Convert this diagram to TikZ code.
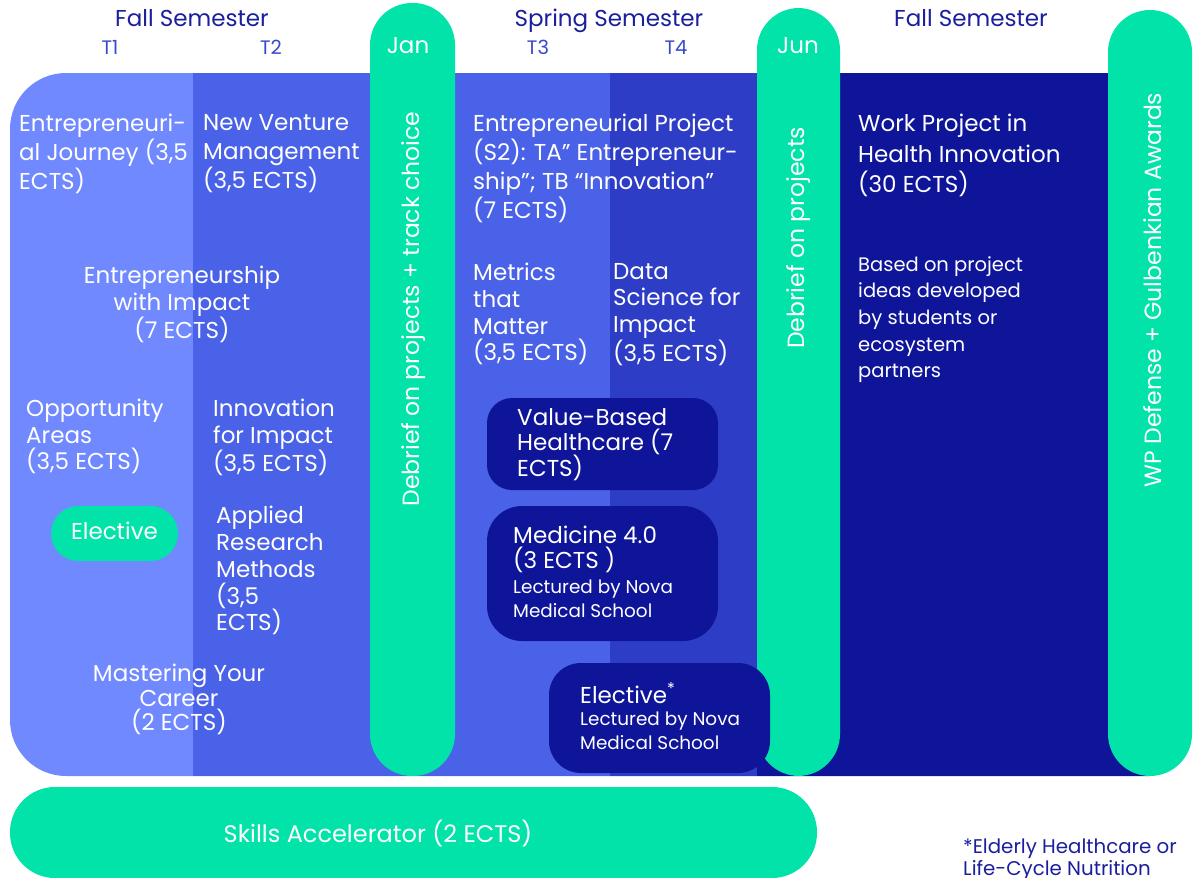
\documentclass[tikz,border=0pt]{standalone}
\usepackage{fontspec}
\setmainfont{Poppins}
\definecolor{mint}{HTML}{02E3AA}
\definecolor{tone}{HTML}{7189FE}
\definecolor{ttwo}{HTML}{4A62E8}
\definecolor{tfour}{HTML}{2E3DC6}
\definecolor{navy}{HTML}{0F1599}
\definecolor{head}{HTML}{1B1F9C}
\definecolor{tlab}{HTML}{3848C9}
\tikzset{
  big/.style={font=\fontsize{23}{29}\selectfont},
  mid/.style={font=\fontsize{23}{26.6}\selectfont},
  lbl/.style={text=white, inner sep=0pt, align=left, anchor=north west},
  clbl/.style={text=white, inner sep=0pt, align=center, anchor=north},
  pill/.style={fill=mint, rounded corners=42},
  navybox/.style={fill=navy},
  hdr/.style={text=head, inner sep=0pt, anchor=base, font=\fontsize{23}{26}\selectfont},
  tl/.style={text=tlab, inner sep=0pt, anchor=base, font=\fontsize{19.5}{22}\selectfont},
  wt/.style={text=white, inner sep=0pt, anchor=base, font=\fontsize{23}{26}\selectfont},
  vt/.style={text=white, font=\fontsize{23.5}{26}\selectfont, rotate=90},
}
\begin{document}
\begin{tikzpicture}[x=1pt,y=-1pt]
\useasboundingbox (0,0) rectangle (1194,878);
% band
\begin{scope}
\clip[rounded corners=56] (10,73) rectangle (1400,776);
\fill[tone] (0,60) rectangle (193,790);
\fill[ttwo] (193,60) rectangle (610,790);
\fill[tfour] (610,60) rectangle (757,790);
\fill[navy] (757,60) rectangle (1150,790);
\end{scope}
% pills
\fill[pill] (370,3) rectangle (455,776);
\fill[pill] (757,8) rectangle (840,776);
\fill[pill] (1108,10) rectangle (1192,776);
\fill[mint, rounded corners=45] (10,787) rectangle (817,878);
\fill[mint, rounded corners=27.5] (51,506) rectangle (178,561);
% headers
\node[hdr] (fall1) at (192,26) {Fall Semester};
\node[hdr] (spring) at (609,26) {Spring Semester};
\node[hdr] (fall2) at (971,26) {Fall Semester};
\node[tl] (t1) at (110,54) {T1};
\node[tl] (t2) at (271,54) {T2};
\node[tl] (t3) at (538,54) {T3};
\node[tl] (t4) at (676,54) {T4};
\node[wt] (jan) at (408,53) {Jan};
\node[wt] (jun) at (798,53) {Jun};
% vertical
\node[vt] (deb1) at (414,309) {Debrief on projects + track choice};
\node[vt] (deb2) at (799,238) {Debrief on projects};
\node[vt] (wp) at (1153,290) {WP Defense + Gulbenkian Awards};
% T1/T2 texts
\node[lbl, big] (ej) at (19,114) {Entrepreneuri-\\al Journey (3,5\\ECTS)};
\node[lbl, big] (nvm) at (203,114) {New Venture\\Management\\(3,5 ECTS)};
\node[clbl, font=\fontsize{23}{26.5}\selectfont] (ewi) at (182,266) {Entrepreneurship\\with Impact\\(7 ECTS)};
\node[lbl, mid] (oa) at (26,399) {Opportunity\\Areas\\(3,5 ECTS)};
\node[lbl, mid] (ifi) at (213,399) {Innovation\\for Impact\\(3,5 ECTS)};
\node[wt] (el1) at (114.5,539) {Elective};
\node[lbl, font=\fontsize{23}{26.8}\selectfont] (arm) at (216,506) {Applied\\Research\\Methods\\(3,5\\ECTS)};
\node[clbl, font=\fontsize{23}{24.5}\selectfont] (myc) at (179,664) {Mastering Your\\Career\\(2 ECTS)};
% T3/T4 texts
\node[lbl, big] (ep) at (473,114) {Entrepreneurial Project\\(S2): TA” Entrepreneur-\\ship”; TB “Innovation”\\(7 ECTS)};
\node[lbl, font=\fontsize{23}{26.7}\selectfont] (mtm) at (473,263) {Metrics\\that\\Matter\\(3,5 ECTS)};
\node[lbl, font=\fontsize{23}{26.7}\selectfont] (dsi) at (613,263) {Data\\Science for\\Impact\\(3,5 ECTS)};
% navy boxes
\fill[navybox, rounded corners=25] (487,398) rectangle (718,490);
\fill[navybox, rounded corners=35] (487,506) rectangle (718,641);
\fill[navybox, rounded corners=32] (549,663) rectangle (770,773);
\node[lbl, font=\fontsize{23}{25}\selectfont] (vbh) at (517,408) {Value-Based\\Healthcare (7\\ECTS)};
\node[lbl, font=\fontsize{23}{25}\selectfont] (med) at (513,526) {Medicine 4.0\\(3 ECTS )};
\node[lbl, font=\fontsize{18.4}{24}\selectfont] (medl) at (513,580) {Lectured by Nova\\Medical School};
\node[lbl, font=\fontsize{23}{25}\selectfont] (el2) at (580,682) {Elective\textsuperscript{*}};
\node[lbl, font=\fontsize{18.4}{24}\selectfont] (el2l) at (580,712) {Lectured by Nova\\Medical School};
% work project
\node[lbl, font=\fontsize{23}{30.5}\selectfont] (wpt) at (858,114) {Work Project in\\Health Innovation\\(30 ECTS)};
\node[lbl, font=\fontsize{19.5}{26.7}\selectfont] (based) at (858,256) {Based on project\\ideas developed\\by students or\\ecosystem\\partners};
% bottom
\node[wt, font=\fontsize{24}{26}\selectfont] (skills) at (378,842) {Skills Accelerator (2 ECTS)};
\node[text=head, inner sep=0pt, align=left, anchor=north west, font=\fontsize{19.8}{22}\selectfont] (foot) at (963,839) {*Elderly Healthcare or\\Life-Cycle Nutrition};
\end{tikzpicture}
\end{document}
